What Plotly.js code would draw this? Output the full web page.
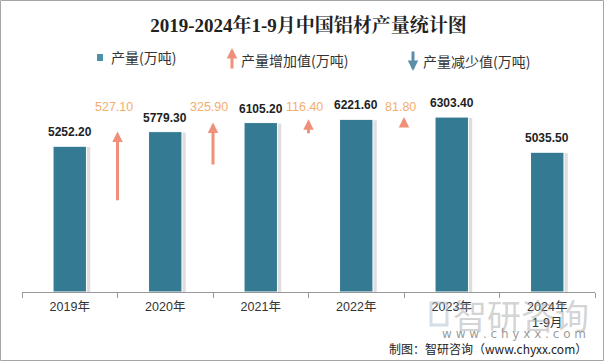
<!DOCTYPE html>
<html>
<head>
<meta charset="utf-8">
<script src="https://cdn.plot.ly/plotly-3.0.1.min.js"></script>
<style>
html,body{margin:0;padding:0;background:#fff;}
#chart{width:604px;height:361px;}
</style>
</head>
<body>
<div id="chart"></div>
<script>
// ---- data ----
const categories = ['2019年', '2020年', '2021年', '2022年', '2023年', '2024年<br>1-9月'];
const production = [5252.2, 5779.3, 6105.2, 6221.6, 6303.4, 5035.5];
const increase = [527.1, 325.9, 116.4, 81.8]; // year-on-year increase between consecutive full years

// ---- layout helpers ----
const W = 604, H = 361;
const M = {l: 22, r: 9, t: 70, b: 69};
const PW = W - M.l - M.r, PH = H - M.t - M.b;
const px = x => (x - M.l) / PW;
const py = y => (H - M.b - y) / PH;

const BAR = '#357A93';
const ARROW_UP = '#F0907A';
const ARROW_DOWN = '#5B8FA8';
const INC_TXT = '#F4AE6C';
const K = 4.8;          // visual exaggeration of arrow length
const INC_LABEL_Y = 6650;

const barWidth = 0.35;

const shadow = {
  type: 'bar', x: categories, y: production.map(v => v * 0.995),
  width: barWidth, offset: -barWidth / 2 + 0.04,
  marker: {color: 'rgba(0,0,0,0.13)', line: {width: 0}},
  hoverinfo: 'skip', showlegend: false
};
const bars = {
  type: 'bar', x: categories, y: production,
  width: barWidth, offset: -barWidth / 2,
  marker: {color: BAR, line: {color: '#ffffff', width: 1}},
  showlegend: false
};

const arrowStyle = {arrowhead: 2, arrowsize: 0.7, arrowwidth: 3, standoff: 0, startstandoff: 0};

const annotations = [];
// bar value labels
production.forEach((v, i) => {
  annotations.push({
    x: i, y: v, xref: 'x', yref: 'y', text: v.toFixed(2), showarrow: false,
    yanchor: 'middle', yshift: 14,
    font: {family: 'Liberation Sans, Arial, sans-serif', size: 12, color: '#222', weight: 'bold'}
  });
});
// increase arrows + labels
increase.forEach((d, i) => {
  const head = production[i + 1];
  annotations.push(Object.assign({
    x: i + 0.5, y: head, xref: 'x', yref: 'y',
    ax: i + 0.5, ay: head - d * K, axref: 'x', ayref: 'y',
    text: '', showarrow: true, arrowcolor: ARROW_UP
  }, arrowStyle));
  annotations.push({
    x: i + 0.46, y: INC_LABEL_Y, xref: 'x', yref: 'y', text: d.toFixed(2), showarrow: false,
    font: {family: 'Liberation Sans, Arial, sans-serif', size: 12.5, color: INC_TXT}
  });
});

// legend (drawn as annotations)
const legFont = {family: 'Noto Sans CJK SC, sans-serif', size: 14, color: '#333'};
annotations.push({xref: 'paper', yref: 'paper', x: px(109), y: py(57), xanchor: 'left', yanchor: 'middle',
  text: '产量(万吨)', showarrow: false, font: legFont});
annotations.push(Object.assign({xref: 'paper', yref: 'paper', x: px(232), y: py(48), text: '', showarrow: true,
  ax: 0, ay: 22, arrowcolor: ARROW_UP}, arrowStyle));
annotations.push({xref: 'paper', yref: 'paper', x: px(239), y: py(60), xanchor: 'left', yanchor: 'middle',
  text: '产量增加值(万吨)', showarrow: false, font: legFont});
annotations.push(Object.assign({xref: 'paper', yref: 'paper', x: px(413), y: py(71), text: '', showarrow: true,
  ax: 0, ay: -21, arrowcolor: ARROW_DOWN}, arrowStyle));
annotations.push({xref: 'paper', yref: 'paper', x: px(421), y: py(61), xanchor: 'left', yanchor: 'middle',
  text: '产量减少值(万吨)', showarrow: false, font: legFont});

// watermark
annotations.push({xref: 'paper', yref: 'paper', x: px(451), y: py(314), xanchor: 'left', yanchor: 'middle',
  text: '智研咨询', showarrow: false,
  font: {family: 'Noto Sans CJK SC, sans-serif', size: 34, color: 'rgba(150,150,150,0.42)'}});
annotations.push({xref: 'paper', yref: 'paper', x: px(514), y: py(334), xanchor: 'center', yanchor: 'middle',
  text: 'w w w . c h y x x . c o m', showarrow: false,
  font: {family: 'DejaVu Sans, sans-serif', size: 12, color: 'rgba(120,120,120,0.75)'}});
// footer
annotations.push({xref: 'paper', yref: 'paper', x: px(589), y: py(348), xanchor: 'right', yanchor: 'middle',
  text: '制图：智研咨询（www.chyxx.com）', showarrow: false,
  font: {family: 'Noto Sans CJK SC, sans-serif', size: 12, color: '#222'}});

const shapes = [
  // frame
  {type: 'rect', xref: 'paper', yref: 'paper', x0: px(0.5), x1: px(603.5), y0: py(360.5), y1: py(0.5),
   line: {color: '#A6A6A6', width: 1}, fillcolor: 'rgba(0,0,0,0)'},
  // legend square
  {type: 'rect', xref: 'paper', yref: 'paper', x0: px(97), x1: px(103), y0: py(61), y1: py(54),
   line: {width: 0}, fillcolor: '#4A91A8'},
  // watermark logo
  {type: 'rect', xref: 'paper', yref: 'paper', x0: px(431), x1: px(447), y0: py(325), y1: py(303),
   line: {color: 'rgba(170,190,205,0.5)', width: 3}, fillcolor: 'rgba(0,0,0,0)'}
];

const layout = {
  width: W, height: H,
  margin: M,
  paper_bgcolor: '#ffffff', plot_bgcolor: '#ffffff',
  barmode: 'overlay',
  title: {text: '2019-2024年1-9月中国铝材产量统计图', x: 0.5, xref: 'paper', y: 1 - 25 / H, yanchor: 'middle',
    font: {family: 'Liberation Serif, Noto Serif CJK SC, Noto Sans CJK SC, serif', size: 19, color: '#222', weight: 'bold'}},
  xaxis: {
    type: 'category', tickson: 'boundaries', ticks: 'outside', ticklen: 5, tickcolor: '#999',
    showline: true, linecolor: '#999', linewidth: 1, showgrid: false, zeroline: false,
    ticklabelstandoff: 3,
    tickfont: {family: 'Liberation Sans, Noto Sans CJK SC, sans-serif', size: 12.5, color: '#333'}
  },
  yaxis: {range: [0, 8000], visible: false, showgrid: false, zeroline: false, fixedrange: true},
  showlegend: false,
  annotations: annotations,
  shapes: shapes
};

Plotly.newPlot('chart', [shadow, bars], layout, {displayModeBar: false, staticPlot: true});
</script>
</body>
</html>
